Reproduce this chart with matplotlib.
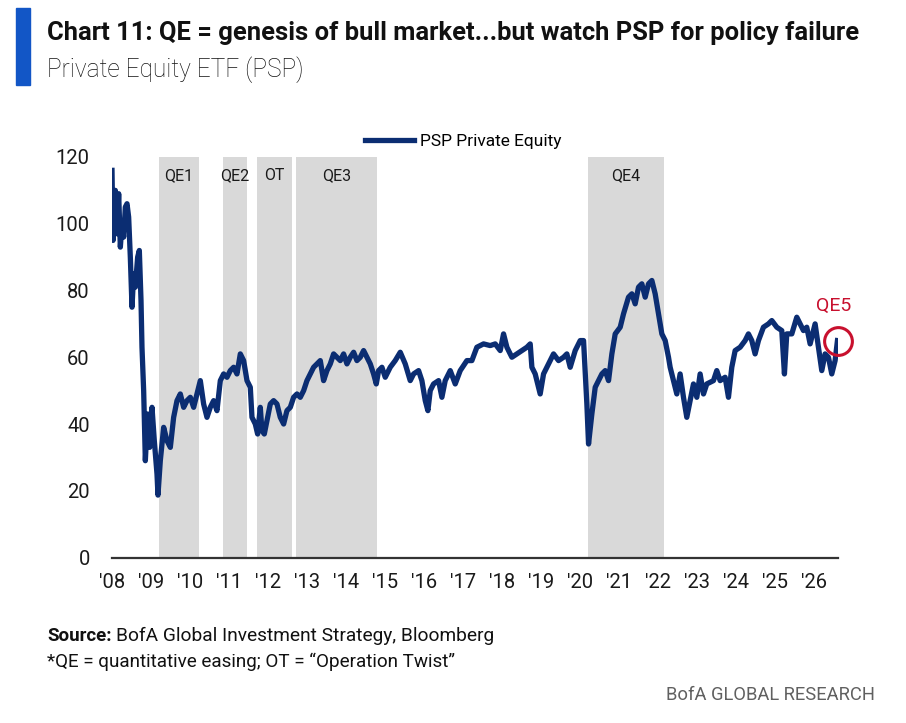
import matplotlib
matplotlib.use("Agg")
import matplotlib.pyplot as plt

plt.rcParams["font.family"] = ["Roboto", "DejaVu Sans"]

# PSP Private Equity ETF (decimal year, price)
years = [
    2008.000, 2008.026, 2008.085, 2008.128, 2008.171, 2008.214, 2008.256, 2008.299,
    2008.342, 2008.385, 2008.427, 2008.470, 2008.513, 2008.556, 2008.598, 2008.658,
    2008.701, 2008.744, 2008.769, 2008.812, 2008.855, 2008.915, 2008.966, 2009.026,
    2009.085, 2009.154, 2009.179, 2009.239, 2009.325, 2009.410, 2009.496, 2009.581,
    2009.667, 2009.752, 2009.838, 2009.923, 2010.009, 2010.094, 2010.179, 2010.265,
    2010.350, 2010.436, 2010.521, 2010.607, 2010.692, 2010.778, 2010.863, 2010.949,
    2011.034, 2011.120, 2011.205, 2011.291, 2011.376, 2011.462, 2011.547, 2011.590,
    2011.675, 2011.735, 2011.803, 2011.846, 2011.906, 2011.974, 2012.060, 2012.145,
    2012.231, 2012.316, 2012.402, 2012.487, 2012.573, 2012.658, 2012.744, 2012.829,
    2012.915, 2013.000, 2013.085, 2013.171, 2013.256, 2013.342, 2013.427, 2013.513,
    2013.598, 2013.684, 2013.769, 2013.855, 2013.940, 2014.026, 2014.111, 2014.197,
    2014.282, 2014.368, 2014.453, 2014.538, 2014.624, 2014.709, 2014.778, 2014.838,
    2014.923, 2015.008, 2015.136, 2015.264, 2015.393, 2015.521, 2015.649, 2015.735,
    2015.863, 2015.948, 2016.034, 2016.102, 2016.162, 2016.247, 2016.376, 2016.461,
    2016.546, 2016.675, 2016.803, 2016.931, 2017.102, 2017.230, 2017.358, 2017.529,
    2017.700, 2017.829, 2017.957, 2018.042, 2018.128, 2018.256, 2018.384, 2018.512,
    2018.641, 2018.726, 2018.769, 2018.854, 2018.982, 2019.068, 2019.196, 2019.324,
    2019.453, 2019.581, 2019.666, 2019.752, 2019.880, 2020.008, 2020.094, 2020.179,
    2020.222, 2020.307, 2020.393, 2020.478, 2020.564, 2020.649, 2020.735, 2020.820,
    2020.906, 2021.034, 2021.119, 2021.247, 2021.333, 2021.418, 2021.504, 2021.589,
    2021.675, 2021.760, 2021.846, 2021.931, 2022.017, 2022.102, 2022.188, 2022.273,
    2022.315, 2022.400, 2022.486, 2022.571, 2022.657, 2022.742, 2022.828, 2022.913,
    2022.999, 2023.084, 2023.170, 2023.255, 2023.426, 2023.511, 2023.597, 2023.725,
    2023.811, 2023.896, 2023.982, 2024.110, 2024.238, 2024.323, 2024.409, 2024.494,
    2024.580, 2024.708, 2024.836, 2024.922, 2025.050, 2025.178, 2025.246, 2025.306,
    2025.435, 2025.563, 2025.648, 2025.734, 2025.819, 2025.905, 2026.033, 2026.118,
    2026.204, 2026.289, 2026.375, 2026.460, 2026.546, 2026.606,
]
psp = [
    116, 95, 110, 97, 109, 93, 100, 96,
    105, 106, 102, 90, 75, 85, 81, 90,
    92, 77, 63, 50, 29, 43, 33, 45,
    35, 25, 18.7, 29, 39, 35, 33, 42,
    47, 49, 45, 47, 48, 45, 49, 53,
    46, 42, 45, 47, 44, 53, 55, 54,
    56, 57, 55, 61, 59, 53, 51, 42,
    40, 37, 45, 38, 37, 41, 46, 47,
    46, 42, 40, 44, 45, 48, 49, 48,
    50, 53, 55, 57, 58, 59, 53, 56,
    58, 61, 60, 59, 61, 58, 60, 61.5,
    59, 60, 62, 60, 58, 55, 52, 56,
    57, 54, 57, 59, 61.5, 58, 53, 55,
    56, 53, 47, 44, 50, 52, 53, 48,
    53, 56, 52, 56, 59, 59, 63, 64,
    63.5, 64, 62, 67, 63, 60, 61, 62,
    63, 64, 57, 55, 49, 55, 58, 61,
    59, 60, 61, 57, 62, 65, 65, 46,
    34, 43, 51, 53, 55, 56, 53, 61,
    67, 69, 73, 78, 79, 76, 81, 82,
    78, 82, 83, 79, 73, 67, 65, 60,
    57, 53, 49, 55, 48, 42, 47, 52,
    48, 55, 49, 52, 53, 56, 53, 54,
    48, 57, 62, 63, 65, 67, 65, 61,
    65, 69, 70, 71, 69, 68, 55, 67,
    67, 72, 70, 68, 69, 64, 70, 63,
    56, 61, 60, 55, 59, 65,
]

# policy periods (shaded)
period_labels = ["QE1", "QE2", "OT", "QE3", "QE4"]
period_start = [2009.205, 2010.85, 2011.73, 2012.72, 2020.21]
period_end = [2010.22, 2011.47, 2012.62, 2014.79, 2022.16]

tick_years = list(range(2008, 2027))
tick_labels = ["'%02d" % (y % 100) for y in tick_years]
y_ticks = [0, 20, 40, 60, 80, 100, 120]

qe5_point = (2026.63, 65)

NAVY = "#0B2D72"
SHADE = "#D9D9D9"
RED = "#C8102E"
INK = "#1a1a1a"

W, H = 906, 723
fig = plt.figure(figsize=(W / 100, H / 100), dpi=100)
ax = fig.add_axes([112 / W, 1 - 557.5 / H, (838 - 112) / W, (557.5 - 157) / H])


def fit_width(t, px):
    # scale a text's font size so it spans about px pixels
    fig.canvas.draw()
    w = t.get_window_extent().width
    t.set_fontsize(t.get_fontsize() * px / w)


for lab, s, e in zip(period_labels, period_start, period_end):
    ax.axvspan(s, e, color=SHADE, lw=0, zorder=0)
    ax.text((s + e) / 2, 114.5, lab, ha="center", va="center", fontsize=11.5,
            color=INK)

ax.plot(years, psp, color=NAVY, lw=3.8, solid_joinstyle="round",
        label="PSP Private Equity", zorder=3)

ax.plot(*qe5_point, marker="o", ms=20, mfc="none", mec=RED, mew=2.2,
        clip_on=False, zorder=4)
ax.text(qe5_point[0] - 0.12, qe5_point[1] + 10.5, "QE5", color=RED,
        fontsize=14, ha="center", va="center")

ax.set_xlim(2008.0, 2026.62)
ax.set_ylim(0, 120)
ax.set_xticks(tick_years)
ax.set_xticklabels(tick_labels)
ax.set_yticks(y_ticks)
ax.tick_params(length=0, labelsize=14.5, colors=INK)
ax.tick_params(axis="x", pad=11)
ax.tick_params(axis="y", pad=16)
for side in ["left", "right", "top"]:
    ax.spines[side].set_visible(False)
ax.spines["bottom"].set_color("#333333")
ax.spines["bottom"].set_linewidth(1.6)
ax.set_facecolor("none")

ax.legend(loc="center", bbox_to_anchor=(463 / W, 1 - 141 / H),
          bbox_transform=fig.transFigure, frameon=False, fontsize=12.5,
          handlelength=2.8, handletextpad=0.35, borderpad=0)

# header
fig.patches.append(plt.Rectangle((16 / W, 1 - 85 / H), 14 / W, 77 / H,
                                 transform=fig.transFigure, color="#1256C6"))
title = fig.text(47 / W, 1 - 33 / H,
                 "Chart 11: QE = genesis of bull market...but watch PSP for policy failure",
                 fontsize=16, fontweight="bold", va="center", ha="left", color="#111111")
sub = fig.text(47 / W, 1 - 70 / H, "Private Equity ETF (PSP)", fontsize=16,
               fontweight="light", va="center", ha="left", color="#111111")

# footer
src = fig.text(47 / W, 1 - 636 / H, "Source:", fontsize=13.5, fontweight="bold",
               va="center", ha="left", color="#111111")
fig.canvas.draw()
bb = src.get_window_extent()
src2 = fig.text((bb.x1 + 4) / W, 1 - 636 / H,
                "BofA Global Investment Strategy, Bloomberg", fontsize=13.5,
                va="center", ha="left", color="#111111")
note = fig.text(47 / W, 1 - 662 / H,
                "*QE = quantitative easing; OT = \u201cOperation Twist\u201d", fontsize=13,
                va="center", ha="left", color="#111111")
brand = fig.text(875 / W, 1 - 695 / H, "BofA GLOBAL RESEARCH", fontsize=14,
                 va="center", ha="right", color="#606060")

fit_width(title, 813)
fit_width(sub, 258)
fit_width(src2, 494 - (bb.x1 + 4))
fit_width(note, 409)
fit_width(brand, 210)

fig.savefig("out.png", dpi=100)
